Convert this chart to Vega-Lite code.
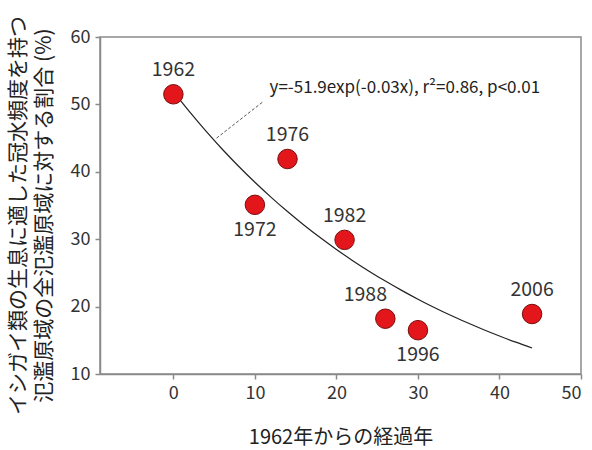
{
  "$schema": "https://vega.github.io/schema/vega-lite/v6.json",
  "width": 481,
  "height": 337,
  "autosize": "none",
  "padding": {"left": 100, "top": 37, "right": 11, "bottom": 76},
  "background": "white",
  "config": {
    "font": "Noto Sans CJK JP",
    "view": {"stroke": "#8a8a8a", "strokeWidth": 1.5},
    "axis": {
      "domainColor": "#8a8a8a",
      "domainWidth": 1.5,
      "tickColor": "#8a8a8a",
      "tickWidth": 1.5,
      "tickSize": 5,
      "grid": false,
      "labelFont": "Noto Sans CJK JP",
      "labelFontSize": 18,
      "labelColor": "#333333",
      "labelPadding": 5,
      "titleFont": "Noto Sans CJK JP",
      "titleColor": "#222222",
      "titleFontWeight": "normal"
    }
  },
  "datasets": {
    "points": [
      {"t": 0, "pct": 51.5, "year": "1962"},
      {"t": 10, "pct": 35.1, "year": "1972"},
      {"t": 14, "pct": 41.9, "year": "1976"},
      {"t": 21, "pct": 29.9, "year": "1982"},
      {"t": 26, "pct": 18.2, "year": "1988"},
      {"t": 30, "pct": 16.5, "year": "1996"},
      {"t": 44, "pct": 18.9, "year": "2006"}
    ],
    "curve": [
      {"t": 0, "pct": 51.9}, {"t": 2, "pct": 48.88}, {"t": 4, "pct": 46.03},
      {"t": 6, "pct": 43.35}, {"t": 8, "pct": 40.83}, {"t": 10, "pct": 38.45},
      {"t": 12, "pct": 36.21}, {"t": 14, "pct": 34.1}, {"t": 16, "pct": 32.11},
      {"t": 18, "pct": 30.24}, {"t": 20, "pct": 28.48}, {"t": 22, "pct": 26.82},
      {"t": 24, "pct": 25.26}, {"t": 26, "pct": 23.79}, {"t": 28, "pct": 22.41},
      {"t": 30, "pct": 21.1}, {"t": 32, "pct": 19.87}, {"t": 34, "pct": 18.71},
      {"t": 36, "pct": 17.63}, {"t": 38, "pct": 16.6}, {"t": 40, "pct": 15.63},
      {"t": 42, "pct": 14.72}, {"t": 44, "pct": 13.86}
    ],
    "leader": [
      {"t": 5.3, "pct": 45.0},
      {"t": 11.0, "pct": 50.4}
    ],
    "note": [
      {"t": 11.8, "pct": 52.4, "label": "y=-51.9exp(-0.03x), r²=0.86, p<0.01"}
    ]
  },
  "encoding": {
    "x": {
      "field": "t",
      "type": "quantitative",
      "scale": {"domain": [-9, 50], "nice": false, "zero": false},
      "axis": {
        "values": [0, 10, 20, 30, 40, 50],
        "title": "1962年からの経過年",
        "titleFontSize": 20,
        "titleX": 240.5,
        "titleY": 63,
        "titleAlign": "center",
        "titleBaseline": "middle"
      }
    },
    "y": {
      "field": "pct",
      "type": "quantitative",
      "scale": {"domain": [10, 60], "nice": false, "zero": false},
      "axis": {
        "values": [10, 20, 30, 40, 50, 60],
        "title": ["イシガイ類の生息に適した冠水頻度を持つ", "氾濫原域の全氾濫原域に対する割合 (%)"],
        "titleFontSize": 21,
        "titleLineHeight": 26,
        "titleAngle": -90,
        "titleX": -93,
        "titleY": 178,
        "titleAlign": "center",
        "titleBaseline": "top"
      }
    }
  },
  "layer": [
    {
      "data": {"name": "leader"},
      "mark": {"type": "line", "color": "#555555", "strokeWidth": 1, "strokeDash": [3, 2]},
      "encoding": {}
    },
    {
      "data": {"name": "curve"},
      "mark": {"type": "line", "color": "#222222", "strokeWidth": 1.2, "interpolate": "monotone"},
      "encoding": {}
    },
    {
      "data": {"name": "points"},
      "mark": {"type": "point", "shape": "circle", "filled": true, "size": 380, "fill": "#e3161c", "stroke": "#7a0d0d", "strokeWidth": 1, "opacity": 1},
      "encoding": {}
    },
    {
      "data": {"name": "points"},
      "transform": [{"filter": "datum.year == '1962' || datum.year == '1976' || datum.year == '1982' || datum.year == '2006'"}],
      "mark": {"type": "text", "fontSize": 19.5, "color": "#333333", "dy": -24, "baseline": "middle", "align": "center"},
      "encoding": {"text": {"field": "year"}}
    },
    {
      "data": {"name": "points"},
      "transform": [{"filter": "datum.year == '1988'"}],
      "mark": {"type": "text", "fontSize": 19.5, "color": "#333333", "dy": -24, "dx": -20, "baseline": "middle", "align": "center"},
      "encoding": {"text": {"field": "year"}}
    },
    {
      "data": {"name": "points"},
      "transform": [{"filter": "datum.year == '1972' || datum.year == '1996'"}],
      "mark": {"type": "text", "fontSize": 19.5, "color": "#333333", "dy": 25, "baseline": "middle", "align": "center"},
      "encoding": {"text": {"field": "year"}}
    },
    {
      "data": {"name": "note"},
      "mark": {"type": "text", "fontSize": 17, "color": "#222222", "align": "left", "baseline": "middle"},
      "encoding": {"text": {"field": "label"}}
    }
  ]
}
